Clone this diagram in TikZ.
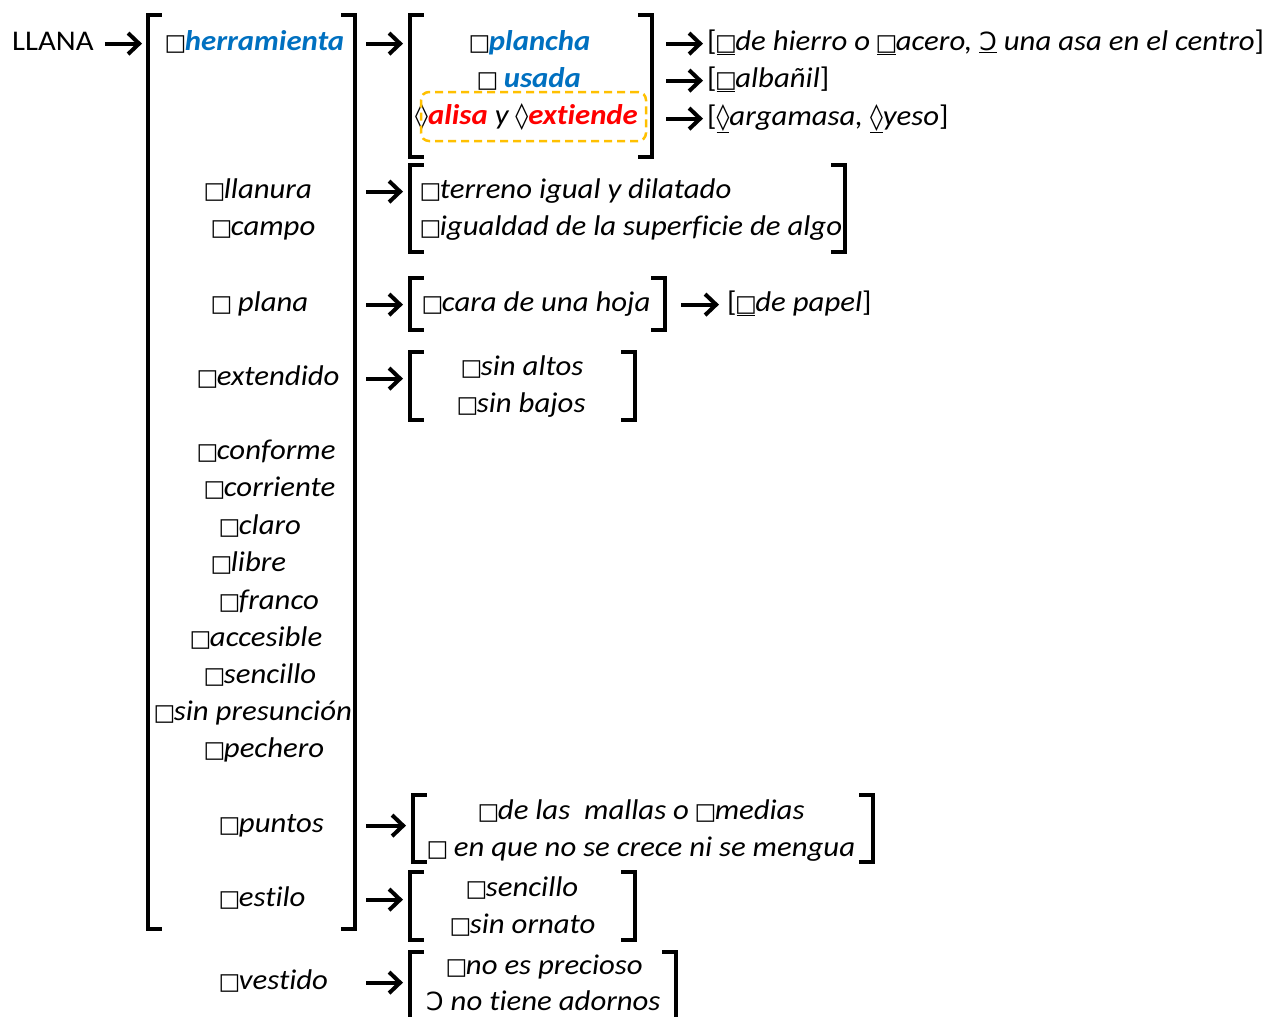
\documentclass[tikz,border=0pt]{standalone}
\usepackage{fontspec}
\setmainfont[Ligatures=NoCommon,FakeStretch=1.08]{Carlito}
\newfontfamily\symfont{DejaVu Sans}
\usetikzlibrary{arrows.meta}
\definecolor{hblue}{HTML}{0070C0}
\definecolor{hred}{HTML}{FF0000}
\definecolor{hgold}{HTML}{FFC000}
% marker glyphs
\newcommand{\sq}{{\upshape\symfont\fontsize{23}{23}\selectfont\kern-1.5pt □\kern-1.5pt}}
\newcommand{\lz}{{\upshape\symfont\fontsize{26}{26}\selectfont ◊}}
\newcommand{\oo}{{\upshape\symfont\fontsize{25}{25}\selectfont Ɔ}}
\newcommand{\ub}[1]{{\upshape #1}}
% a pair of square brackets around a group node
\newcommand{\bracketpair}[1]{%
  \draw[brk] ([xshift=12pt]#1.north west) -- (#1.north west) -- (#1.south west) -- ([xshift=12pt]#1.south west);
  \draw[brk] ([xshift=-12pt]#1.north east) -- (#1.north east) -- (#1.south east) -- ([xshift=-12pt]#1.south east);}
\begin{document}
\begin{tikzpicture}[x=1pt,y=-1pt,
  txt/.style={anchor=base west, inner sep=0pt, font=\fontsize{28.5}{34}\selectfont\itshape},
  grp/.style={inner sep=0pt, outer sep=0pt},
  brk/.style={line width=4pt, line cap=rect, line join=miter},
  arr/.style={line width=4pt, -{Straight Barb[length=11pt,width=21pt]}},
  up/.style={yshift=4pt},
  hl/.style={draw=hgold, dash pattern=on 8pt off 5pt, line width=2.5pt, rounded corners=8pt,
             inner sep=0pt, minimum width=225pt, minimum height=49pt},
]
\path[use as bounding box] (0,0) rectangle (1269,1017);
\clip (0,0) rectangle (1269,1017);

% bracket groups
\node[grp, minimum width=207pt, minimum height=914pt] (G0) at (251.5,472) {};
\node[grp, minimum width=242pt, minimum height=142pt] (G1) at (531,86) {};
\node[grp, minimum width=435pt, minimum height=87pt]  (G2) at (627.5,208.5) {};
\node[grp, minimum width=255pt, minimum height=52pt]  (G3) at (537.5,304) {};
\node[grp, minimum width=225pt, minimum height=68pt]  (G4) at (522.5,386) {};
\node[grp, minimum width=460pt, minimum height=67pt]  (G5) at (643,828.5) {};
\node[grp, minimum width=225pt, minimum height=68pt]  (G6) at (522.5,906) {};
\node[grp, minimum width=266pt, minimum height=78pt]  (G7) at (543,991) {};
\foreach \g in {G0,G1,G2,G3,G4,G5,G6,G7} {\bracketpair{\g}}

% head word
\node[txt, font=\fontsize{28.5}{34}\selectfont\upshape] (llana) at (12,50) {LLANA};

% first column
\node[txt] (herr) at (166,50) {\sq{\bfseries\color{hblue}herramienta}};
\node[txt] (llanura) at (205,198) {\sq llanura};
\node[txt] (campo) at (212,235) {\sq campo};
\node[txt] (plana) at (212,311) {\sq{} plana};
\node[txt] (extendido) at (198,385) {\sq extendido};
\node[txt] (conforme) at (198,459) {\sq conforme};
\node[txt] (corriente) at (205,496) {\sq corriente};
\node[txt] (claro) at (220,534) {\sq claro};
\node[txt] (libre) at (212,571) {\sq libre};
\node[txt] (franco) at (220,609) {\sq franco};
\node[txt] (accesible) at (191,646) {\sq accesible};
\node[txt] (sencillo) at (205,683) {\sq sencillo};
\node[txt] (presuncion) at (155,720) {\sq sin presunción};
\node[txt] (pechero) at (205,757) {\sq pechero};
\node[txt] (puntos) at (220,832) {\sq puntos};
\node[txt] (estilo) at (220,906) {\sq estilo};
\node[txt] (vestido) at (220,989) {\sq vestido};

% herramienta
\node[txt] (plancha) at (470,50) {\sq{\bfseries\color{hblue}plancha}};
\node[txt] (usada) at (478,87) {\sq{} {\bfseries\color{hblue}usada}};
\node[txt] (alisa) at (415,124) {\lz{\bfseries\color{hred}alisa} y \lz{\bfseries\color{hred}extiende}};
\node[hl] (hlbox) at (533.5,116.5) {};
\node[txt] (hierro) at (707,50) {\ub{[}\underline{\sq}de hierro o \underline{\sq}acero, \underline{\oo} una asa en el centro\ub{]}};
\node[txt] (albanil) at (707,87) {\ub{[}\underline{\sq}albañil\ub{]}};
\node[txt] (argamasa) at (707,125) {\ub{[}\underline{\lz}argamasa, \underline{\lz}yeso\ub{]}};

% llanura / campo
\node[txt] (terreno) at (421,198) {\sq terreno igual y dilatado};
\node[txt] (igualdad) at (421,235) {\sq igualdad de la superficie de algo};

% plana
\node[txt] (cara) at (423,311) {\sq cara de una hoja};
\node[txt] (papel) at (727,311) {\ub{[}\underline{\sq}de papel\ub{]}};

% extendido
\node[txt] (altos) at (462,375) {\sq sin altos};
\node[txt] (bajos) at (458,412) {\sq sin bajos};

% puntos
\node[txt] (mallas) at (479,819) {\sq de las\ \ mallas o \sq medias};
\node[txt] (mengua) at (428,856) {\sq{} en que no se crece ni se mengua};

% estilo
\node[txt] (sencillo2) at (467,896) {\sq sencillo};
\node[txt] (ornato) at (451,933) {\sq sin ornato};

% vestido
\node[txt] (precioso) at (447,974) {\sq no es precioso};
\node[txt] (adornos) at (426,1010) {\oo{} no tiene adornos};

% connectors
\draw[arr] ([xshift=11pt,up]llana.east |- llana.mid) -- ([xshift=-6pt,up]G0.west |- llana.mid);
\draw[arr] ([xshift=11pt,up]G0.east |- herr.mid) -- ([xshift=-7pt,up]G1.west |- herr.mid);
\draw[arr] ([xshift=11pt,up]G0.east |- llanura.mid) -- ([xshift=-7pt,up]G2.west |- llanura.mid);
\draw[arr] ([xshift=11pt,up]G0.east |- plana.mid) -- ([xshift=-7pt,up]G3.west |- plana.mid);
\draw[arr] ([xshift=11pt,up]G0.east |- extendido.mid) -- ([xshift=-7pt,up]G4.west |- extendido.mid);
\draw[arr] ([xshift=11pt,up]G0.east |- puntos.mid) -- ([xshift=-7pt,up]G5.west |- puntos.mid);
\draw[arr] ([xshift=11pt,up]G0.east |- estilo.mid) -- ([xshift=-7pt,up]G6.west |- estilo.mid);
\draw[arr] ([xshift=11pt,up]G0.east |- vestido.mid) -- ([xshift=-7pt,up]G7.west |- vestido.mid);
\draw[arr] ([xshift=14pt,up]G1.east |- hierro.mid) -- ([xshift=-4pt,up]hierro.west |- hierro.mid);
\draw[arr] ([xshift=14pt,up]G1.east |- albanil.mid) -- ([xshift=-4pt,up]albanil.west |- albanil.mid);
\draw[arr] ([xshift=14pt,up]G1.east |- argamasa.mid) -- ([xshift=-4pt,up]argamasa.west |- argamasa.mid);
\draw[arr] ([xshift=16pt,up]G3.east |- cara.mid) -- ([xshift=-8pt,up]papel.west |- cara.mid);
\end{tikzpicture}
\end{document}
